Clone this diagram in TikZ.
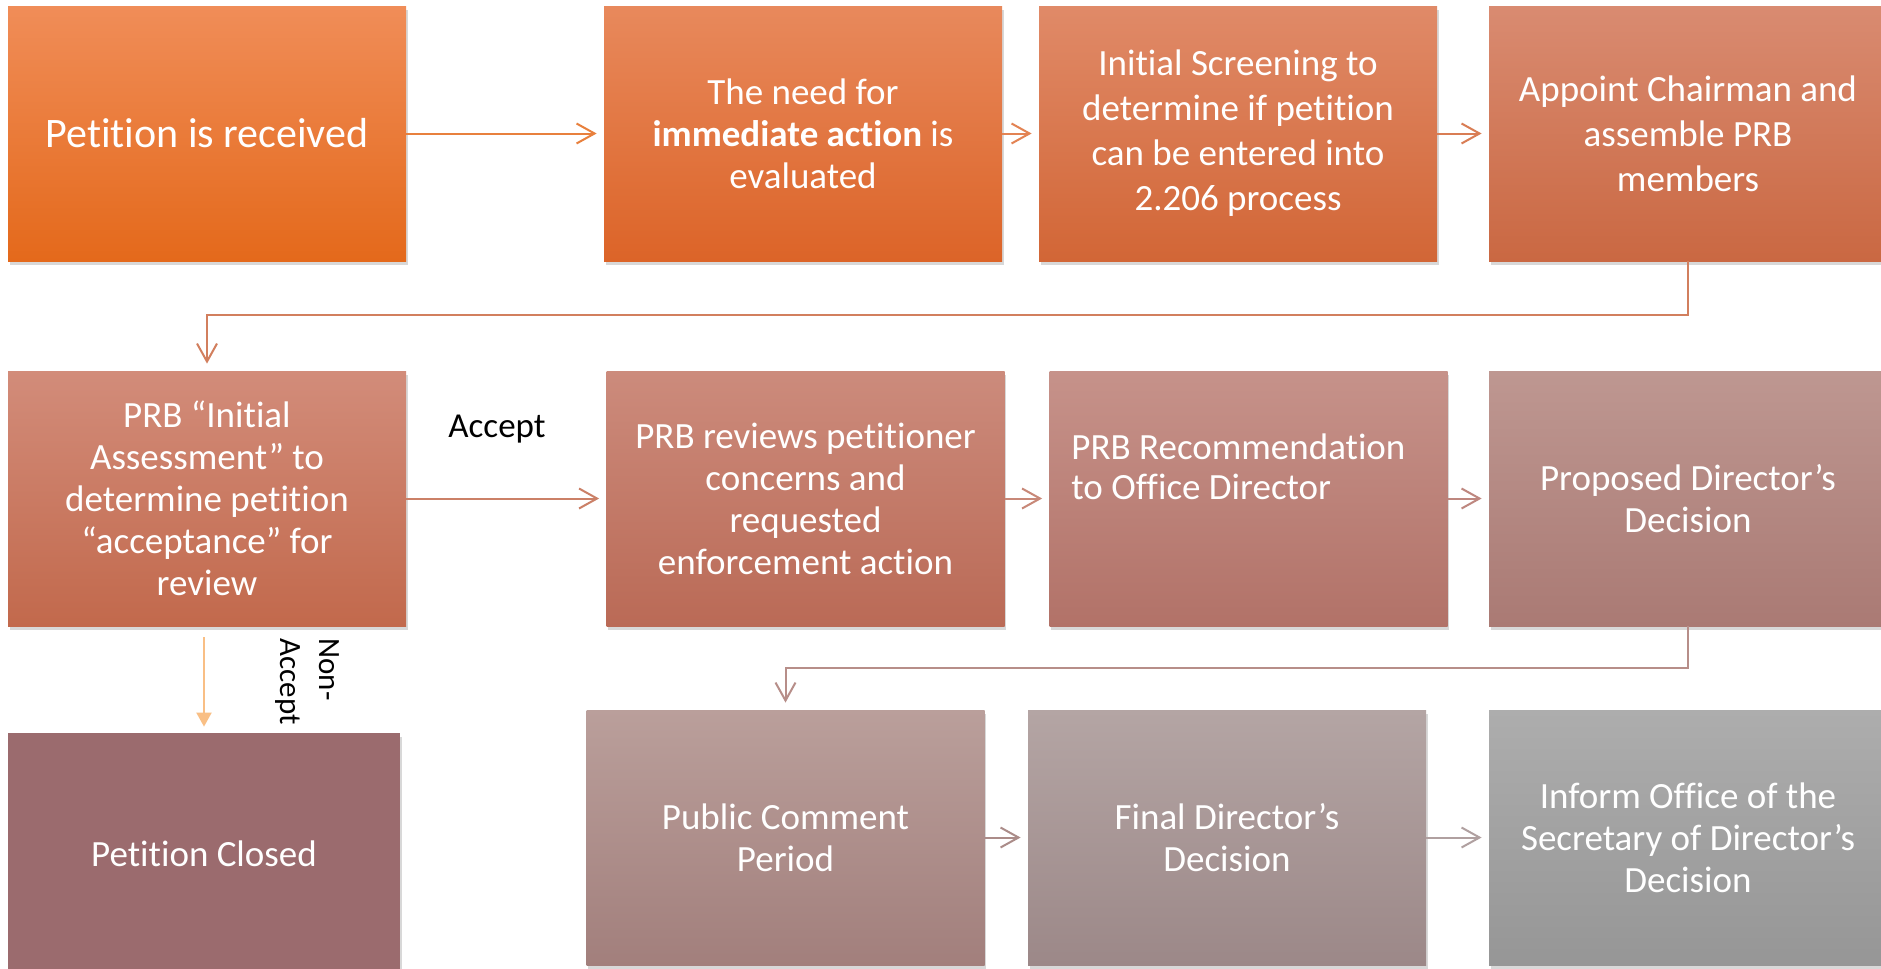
\documentclass[tikz,border=0pt]{standalone}
\usepackage{fontspec}
\setmainfont{Carlito}[Ligatures={NoCommon}]
\usetikzlibrary{arrows.meta,shadows}

\definecolor{recvtop}{HTML}{F08D58}\definecolor{recvbot}{HTML}{E4691B}
\definecolor{needtop}{HTML}{E8895C}\definecolor{needbot}{HTML}{DC6428}
\definecolor{screentop}{HTML}{E08A68}\definecolor{screenbot}{HTML}{D26636}
\definecolor{chairtop}{HTML}{D98B71}\definecolor{chairbot}{HTML}{CA6842}
\definecolor{inittop}{HTML}{D28C7A}\definecolor{initbot}{HTML}{C2694C}
\definecolor{reviewtop}{HTML}{CC8B7C}\definecolor{reviewbot}{HTML}{BA6A56}
\definecolor{recomtop}{HTML}{C6928A}\definecolor{recombot}{HTML}{B27268}
\definecolor{proptop}{HTML}{BE9791}\definecolor{propbot}{HTML}{AA7A74}
\definecolor{closedfill}{HTML}{9B6B6E}
\definecolor{publictop}{HTML}{BA9F9B}\definecolor{publicbot}{HTML}{A27F7C}
\definecolor{finaltop}{HTML}{B4A5A4}\definecolor{finalbot}{HTML}{9C8888}
\definecolor{informtop}{HTML}{ADADAD}\definecolor{informbot}{HTML}{969696}

\tikzset{
	procbox/.style={rectangle, minimum width=199pt, minimum height=127.5pt, inner sep=0pt,
		text=white, align=center, font=\fontsize{18.5}{21}\selectfont,
		drop shadow={shadow xshift=0.8pt, shadow yshift=-2pt, opacity=0.3}},
	boxshade/.style 2 args={top color=#1, bottom color=#2},
	flow/.style={line width=1pt, -{Straight Barb[length=9pt,width=10pt,line width=1pt]}, shorten >=3.5pt},
	sidetext/.style={text=black, inner sep=0pt}
}

\begin{document}
\begin{tikzpicture}[x=0.5pt, y=-0.5pt]
	%%%%% START %%%%%
	
	\fill[white] (0,0) rectangle (1881,969);
	\useasboundingbox (0,0) rectangle (1881,969);
	
	% first row
	\node[procbox, boxshade={recvtop}{recvbot}, font=\fontsize{21}{25}\selectfont] (recv) at (207,133.5) {Petition is received};
	\node[procbox, boxshade={needtop}{needbot}] (need) at (803,133.5) {The need for\\\textbf{immediate action} is\\evaluated};
	\node[procbox, boxshade={screentop}{screenbot}, font=\fontsize{18.5}{22.5}\selectfont] (screen) at (1238,133.5) {Initial Screening to\\determine if petition\\can be entered into\\2.206 process};
	\node[procbox, boxshade={chairtop}{chairbot}, font=\fontsize{18.5}{22.5}\selectfont] (chair) at (1688,133.5) {Appoint Chairman and\\assemble PRB\\members};
	
	% second row
	\node[procbox, boxshade={inittop}{initbot}] (init) at (207,498.5) {PRB ``Initial\\Assessment'' to\\determine petition\\``acceptance'' for\\review};
	\node[procbox, boxshade={reviewtop}{reviewbot}] (review) at (805.5,498.5) {PRB reviews petitioner\\concerns and\\requested\\enforcement action};
	\node[procbox, boxshade={recomtop}{recombot}] (recom) at (1248.5,498.5) {};
	\node[text=white, align=left, inner sep=0pt, anchor=north west, font=\fontsize{18.5}{20}\selectfont] (recomtext) at (1071,433) {PRB Recommendation\\to Office Director};
	\node[procbox, boxshade={proptop}{propbot}] (prop) at (1688,498.5) {Proposed Director’s\\Decision};
	
	% third row
	\node[procbox, fill=closedfill, minimum width=196pt, minimum height=121pt] (closed) at (204,854) {Petition Closed};
	\node[procbox, boxshade={publictop}{publicbot}] (public) at (785.5,837.5) {Public Comment\\Period};
	\node[procbox, boxshade={finaltop}{finalbot}] (final) at (1227,837.5) {Final Director’s\\Decision};
	\node[procbox, boxshade={informtop}{informbot}] (inform) at (1688,837.5) {Inform Office of the\\Secretary of Director’s\\Decision};
	
	% labels
	\node[sidetext, font=\fontsize{17.5}{21}\selectfont] (accept) at (497,429) {Accept};
	\node[sidetext, rotate=-90, align=left, anchor=north west, font=\fontsize{15.5}{19.5}\selectfont] (nonaccept) at (340,638) {Non-\\Accept};
	
	% connectors
	\draw[flow, color=recvbot!85!white] (recv.east) -- (need.west);
	\draw[flow, color=needbot!80!white] (need.east) -- (screen.west);
	\draw[flow, color=screenbot!85!white] (screen.east) -- (chair.west);
	\draw[flow, color=chairbot!85!white] (chair.south) -- ++(0,54) -| (init.north);
	\draw[flow, color=initbot!85!white] (init.east) -- (review.west);
	\draw[flow, color=reviewbot!80!white] (review.east) -- (recom.west);
	\draw[flow, color=recombot!85!white] (recom.east) -- (prop.west);
	\draw[flow, color=propbot!85!white] (prop.south) -- ++(0,42) -| (public.north);
	\draw[flow, color=publicbot!90!white] (public.east) -- (final.west);
	\draw[flow, color=finalbot!80!white] (final.east) -- (inform.west);
	\draw[line width=1pt, color=orange!45!white!90!brown, -{Triangle[length=7pt,width=7.5pt]}, shorten <=5.5pt, shorten >=3pt] (closed.north |- init.south) -- (closed.north);
	
	%%%%% END %%%%%
\end{tikzpicture}
\end{document}
